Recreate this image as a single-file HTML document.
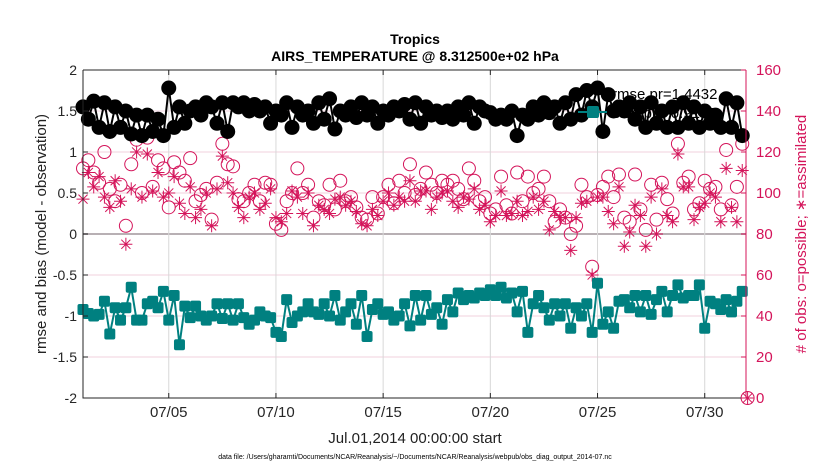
<!DOCTYPE html>
<html><head><meta charset="utf-8"><style>
body{margin:0;background:#fff;font-family:"Liberation Sans",sans-serif}
svg{display:block}
</style></head><body>
<svg id="c" width="830" height="470" xmlns="http://www.w3.org/2000/svg" font-family="Liberation Sans, sans-serif">
<text x="415" y="44" text-anchor="middle" font-size="14" font-weight="bold">Tropics</text>
<text x="415" y="61" text-anchor="middle" font-size="14" font-weight="bold">AIRS_TEMPERATURE @ 8.312500e+02 hPa</text>
<g id="grid"></g>
<g id="legendText">
<text x="612" y="99" font-size="15">rmse pr=1.4432</text>
<text x="612" y="118" font-size="15">bias pr=-0.9175</text>
</g>
<g id="marks"></g>
<g id="legendMarks"></g>
<g id="axes"></g>
<text transform="translate(46,234) rotate(-90)" text-anchor="middle" font-size="15" fill="#222">rmse and bias (model - observation)</text>
<text transform="translate(806,234) rotate(-90)" text-anchor="middle" font-size="15" fill="#d4145a"># of obs: o=possible; ∗=assimilated</text>
<text x="415" y="443" text-anchor="middle" font-size="15" fill="#222">Jul.01,2014 00:00:00 start</text>
<text x="415" y="459" text-anchor="middle" font-size="7" fill="#000">data file: /Users/gharamti/Documents/NCAR/Reanalysis/~/Documents/NCAR/Reanalysis/webpub/obs_diag_output_2014-07.nc</text>
</svg>
<script>
const rmse=[1.55,1.4,1.62,1.3,1.6,1.25,1.55,1.3,1.5,1.22,1.45,1.2,1.45,1.25,1.4,1.2,1.78,1.3,1.55,1.35,1.5,1.55,1.45,1.6,1.55,1.35,1.6,1.25,1.6,1.55,1.6,1.5,1.58,1.5,1.55,1.35,1.5,1.45,1.6,1.3,1.55,1.45,1.5,1.35,1.6,1.4,1.65,1.28,1.5,1.45,1.55,1.42,1.6,1.45,1.55,1.35,1.5,1.45,1.55,1.5,1.58,1.4,1.6,1.35,1.55,1.45,1.5,1.42,1.5,1.4,1.55,1.45,1.6,1.35,1.55,1.5,1.48,1.4,1.45,1.4,1.5,1.2,1.45,1.4,1.55,1.45,1.6,1.48,1.55,1.35,1.6,1.4,1.7,1.45,1.75,1.55,1.78,1.25,1.7,1.5,1.55,1.5,1.6,1.4,1.55,1.3,1.6,1.35,1.5,1.3,1.55,1.3,1.6,1.35,1.55,1.3,1.5,1.35,1.45,1.3,1.65,1.3,1.6,1.2];
const bias=[-0.92,-0.97,-1.0,-0.98,-0.82,-1.22,-0.9,-1.05,-0.9,-0.65,-1.05,-1.05,-0.85,-0.82,-0.9,-0.7,-1.05,-0.75,-1.35,-0.88,-1.02,-0.88,-1.0,-1.05,-1.0,-0.85,-1.03,-0.85,-1.05,-0.85,-1.02,-1.1,-1.05,-0.95,-1.0,-1.02,-1.2,-1.25,-0.8,-1.08,-1.0,-0.95,-0.85,-0.95,-0.98,-0.85,-1.0,-0.75,-1.05,-0.95,-0.85,-1.1,-0.75,-1.25,-0.92,-0.85,-0.98,-0.95,-1.05,-1.0,-0.85,-1.12,-0.75,-1.05,-0.75,-0.98,-0.9,-1.1,-0.8,-0.95,-0.72,-0.8,-0.75,-0.78,-0.72,-0.75,-0.68,-0.75,-0.65,-0.78,-0.72,-0.95,-0.7,-1.2,-0.85,-0.75,-0.9,-1.05,-0.85,-1.0,-0.85,-1.15,-0.9,-1.0,-0.85,-1.2,-0.6,-1.1,-0.95,-1.15,-0.82,-0.8,-0.9,-0.75,-0.95,-0.75,-0.98,-0.8,-0.7,-0.95,-0.75,-0.62,-0.78,-0.75,-0.75,-0.62,-1.15,-0.82,-0.85,-0.92,-0.8,-0.95,-0.82,-0.7];
const nPossible=[112,116,110,105,120,102,96,104,84,114,126,100,127,103,116,112,93,115,110,106,117,96,99,102,87,105,124,114,113,97,96,100,104,96,105,104,85,82,96,100,112,100,104,88,96,94,104,92,106,96,98,93,88,87,98,90,98,104,95,106,100,114,99,102,110,104,100,106,104,106,102,97,112,106,96,98,90,92,108,94,90,110,96,108,100,102,108,96,86,92,88,80,84,104,98,64,99,103,108,98,109,88,86,109,92,82,104,87,105,97,90,124,105,108,92,95,106,102,103,92,121,94,103,124,0];
const nAssim=[97,110,103,108,98,93,106,96,75,102,120,98,119,101,110,98,100,108,95,90,103,88,92,100,84,102,118,105,100,93,88,98,100,92,95,102,88,86,90,101,98,90,100,84,94,92,90,97,98,94,96,91,85,84,92,89,96,100,94,98,96,106,96,101,101,92,98,100,101,96,93,98,97,102,92,94,86,89,101,89,90,96,89,91,98,92,96,82,91,88,88,72,88,95,96,60,98,98,91,85,103,74,81,94,89,74,98,80,102,89,86,119,103,103,87,93,95,100,98,86,112,93,86,111,0];
const leftTicks=[2,1.5,1,0.5,0,-0.5,-1,-1.5,-2];
const rightTicks=[160,140,120,100,80,60,40,20,0];
const xTickDays=[4,9,14,19,24,29];
const xTickLabels=["07/05","07/10","07/15","07/20","07/25","07/30"];

const NS="http://www.w3.org/2000/svg";
const X0=83,X1=747.6,Y0=70,Y1=398;
const xs=d=>X0+(d/31)*(X1-X0);
const yl=v=>Y1-(v+2)/4*(Y1-Y0);
const yr=v=>Y1-v/160*(Y1-Y0);
const tday=i=>i*0.25;
function mk(tag,attrs,parent){const e=document.createElementNS(NS,tag);for(const k in attrs)e.setAttribute(k,attrs[k]);parent.appendChild(e);return e;}
const grid=document.getElementById('grid'),marks=document.getElementById('marks'),axes=document.getElementById('axes'),lm=document.getElementById('legendMarks');
const MAG="#d4145a";

rightTicks.forEach(t=>{const l=mk('line',{x1:X0,x2:746,y1:yr(t),y2:yr(t),stroke:t===80?'#b8b0b4':'#f0d0dc','stroke-width':t===80?2:1},grid);

});
xTickDays.forEach(d=>{const l=mk('line',{x1:xs(d),x2:xs(d),y1:Y0,y2:Y1,stroke:'#d8d8d8','stroke-width':1},grid);

});

nPossible.forEach((v,i)=>{const d=i<124?tday(i):31;const c=mk('circle',{cx:xs(d),cy:yr(v),r:6.5,fill:'none',stroke:MAG,'stroke-width':1},marks);

});
nAssim.forEach((v,i)=>{const d=i<124?tday(i):31;const cx=xs(d),cy=yr(v),s=6.5;
const g=mk('path',{d:`M${cx-s} ${cy}H${cx+s}M${cx} ${cy-s}V${cy+s}M${cx-s*0.7} ${cy-s*0.7}L${cx+s*0.7} ${cy+s*0.7}M${cx-s*0.7} ${cy+s*0.7}L${cx+s*0.7} ${cy-s*0.7}`,stroke:MAG,'stroke-width':1,fill:'none'},marks);

});

const rp=mk('polyline',{points:rmse.map((v,i)=>xs(tday(i))+','+yl(v)).join(' '),fill:'none',stroke:'#000','stroke-width':2},marks);


rmse.forEach((v,i)=>{const c=mk('circle',{cx:xs(tday(i)),cy:yl(v),r:7.5,fill:'#000'},marks);

});
const bp=mk('polyline',{points:bias.map((v,i)=>xs(tday(i))+','+yl(v)).join(' '),fill:'none',stroke:'#008080','stroke-width':2},marks);


bias.forEach((v,i)=>{const r=mk('rect',{x:xs(tday(i))-5.5,y:yl(v)-5.5,width:11,height:11,rx:2,fill:'#008080'},marks);

});

const ll=mk('line',{x1:578,x2:607,y1:112,y2:112,stroke:'#008080','stroke-width':2},lm);


const lr=mk('rect',{x:587,y:106,width:12,height:12,rx:2,fill:'#008080'},lm);



const la=mk('path',{d:`M${X0} ${Y0}V${Y1}H746M${X0} ${Y0}H746`,stroke:'#262626','stroke-width':1,fill:'none'},axes);


const ra=mk('line',{x1:746,x2:746,y1:Y0,y2:Y1,stroke:MAG,'stroke-width':1},axes);


leftTicks.forEach(t=>{const y=yl(t);
mk('line',{x1:X0,x2:X0+5,y1:y,y2:y,stroke:'#262626'},axes);
const tx=mk('text',{x:77,y:y+5,'text-anchor':'end','font-size':14,fill:'#262626'},axes);tx.textContent=t;

});
rightTicks.forEach(t=>{const y=yr(t);
mk('line',{x1:741,x2:746,y1:y,y2:y,stroke:MAG},axes);
const tx=mk('text',{x:756,y:y+5,'font-size':15,fill:MAG},axes);tx.textContent=t;

});
xTickDays.forEach((d,i)=>{const x=xs(d);
mk('line',{x1:x,x2:x,y1:Y1,y2:Y1-5,stroke:'#262626'},axes);
mk('line',{x1:x,x2:x,y1:Y0,y2:Y0+5,stroke:'#262626'},axes);
const tx=mk('text',{x:x,y:417,'text-anchor':'middle','font-size':15,fill:'#262626'},axes);tx.textContent=xTickLabels[i];

});
</script>
</body></html>
